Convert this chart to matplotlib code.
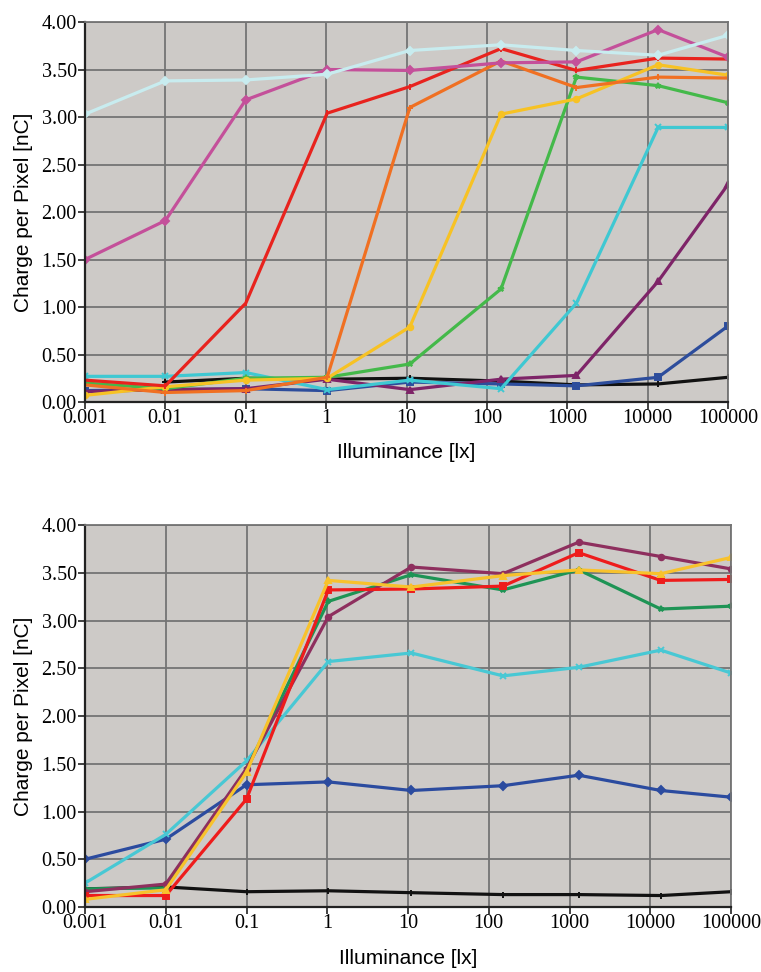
import numpy as np
import matplotlib
matplotlib.use("Agg")
from matplotlib import pyplot as plt

# illuminance steps (lx) and tick labels
lux = [0.001, 0.01, 0.1, 1.03, 11, 150, 1300, 13500, 100000]
tick_lux = [0.001, 0.01, 0.1, 1, 10, 100, 1000, 10000, 100000]
tick_text = ["0.001", "0.01", "0.1", "1", "10", "100", "1000", "10000", "100000"]

# upper panel: charge per pixel [nC]
top_lightcyan = [3.03, 3.38, 3.39, 3.45, 3.70, 3.76, 3.70, 3.65, 3.86]
top_magenta = [1.50, 1.91, 3.18, 3.50, 3.49, 3.57, 3.58, 3.92, 3.63]
top_red = [0.23, 0.17, 1.04, 3.04, 3.32, 3.72, 3.49, 3.62, 3.61]
top_orange = [0.18, 0.10, 0.12, 0.26, 3.10, 3.59, 3.31, 3.42, 3.41]
top_yellow = [0.07, 0.16, 0.23, 0.25, 0.79, 3.03, 3.19, 3.55, 3.44]
top_green = [0.20, 0.14, 0.25, 0.26, 0.40, 1.19, 3.42, 3.33, 3.15]
top_cyan = [0.27, 0.27, 0.31, 0.13, 0.23, 0.14, 1.04, 2.89, 2.89]
top_purple = [0.11, 0.13, 0.14, 0.24, 0.13, 0.24, 0.28, 1.27, 2.29]
top_blue = [0.12, 0.13, 0.14, 0.12, 0.21, 0.19, 0.17, 0.26, 0.80]
top_black = [np.nan, 0.21, 0.25, 0.24, 0.25, 0.22, 0.18, 0.19, 0.26]

# lower panel
bot_maroon = [0.16, 0.24, 1.45, 3.04, 3.56, 3.49, 3.82, 3.67, 3.54]
bot_red = [0.12, 0.12, 1.13, 3.32, 3.33, 3.36, 3.71, 3.42, 3.43]
bot_yellow = [0.08, 0.18, 1.41, 3.42, 3.35, 3.47, 3.53, 3.49, 3.66]
bot_green = [0.19, 0.20, 1.44, 3.20, 3.48, 3.32, 3.53, 3.12, 3.15]
bot_cyan = [0.25, 0.76, 1.53, 2.57, 2.66, 2.42, 2.51, 2.69, 2.45]
bot_blue = [0.50, 0.71, 1.28, 1.31, 1.22, 1.27, 1.38, 1.22, 1.15]
bot_black = [0.19, 0.21, 0.16, 0.17, 0.15, 0.13, 0.13, 0.12, 0.16]

top_series = [
    (top_black, "#111111", "+"),
    (top_blue, "#2d4d9c", "s"),
    (top_purple, "#7e2468", "^"),
    (top_cyan, "#3fc8d2", "x"),
    (top_green, "#44b94a", "*"),
    (top_yellow, "#f7c224", "o"),
    (top_orange, "#f07022", "+"),
    (top_red, "#e8231e", "|"),
    (top_magenta, "#c4509a", "D"),
    (top_lightcyan, "#c8ecef", "D"),
]
bot_series = [
    (bot_black, "#111111", "+"),
    (bot_blue, "#2b4b9f", "D"),
    (bot_cyan, "#48c8d4", "x"),
    (bot_green, "#1e9455", "*"),
    (bot_maroon, "#8e2f5e", "o"),
    (bot_red, "#ee1c1c", "s"),
    (bot_yellow, "#f8c22c", "^"),
]

serif = "Liberation Serif"
sans = "Liberation Sans"

fig = plt.figure(figsize=(7.61, 9.72), dpi=100)
ax_top = fig.add_axes([85 / 761, 1 - 402 / 972, 643 / 761, 380 / 972])
ax_bot = fig.add_axes([85 / 761, 1 - 907 / 972, 646 / 761, 382 / 972])

panels = [(ax_top, top_series, 402, 380, 452), (ax_bot, bot_series, 907, 382, 958)]
for ax, series, bottom_px, height_px, label_y in panels:
    ax.set_facecolor("#cdcac7")
    for vals, col, mk in series:
        ax.plot(lux, vals, color=col, lw=2.3, marker=mk, ms=4, mew=1.4,
                solid_joinstyle="round")
    ax.set_xscale("log")
    ax.set_xlim(0.001, 100000)
    ax.set_ylim(0, 4)
    ax.xaxis.set_minor_locator(matplotlib.ticker.NullLocator())
    ax.set_xticks(tick_lux)
    ax.set_xticklabels(tick_text, fontfamily=serif, fontsize=14.5)
    yt = np.arange(0, 4.01, 0.5)
    ax.set_yticks(yt)
    ax.set_yticklabels(["%.2f" % v for v in yt], fontfamily=serif, fontsize=14.5)
    ax.grid(True, color="#747474", lw=1.3)
    ax.set_axisbelow(True)
    ax.tick_params(axis="both", direction="out", length=5, width=1.2,
                   color="#222222")
    ax.tick_params(axis="x", pad=0)
    ax.tick_params(axis="y", pad=1)
    for side in ["top", "right"]:
        ax.spines[side].set_color("#747474")
        ax.spines[side].set_linewidth(1.3)
    for side in ["left", "bottom"]:
        ax.spines[side].set_color("#222222")
        ax.spines[side].set_linewidth(1.6)
    ax.set_ylabel("Charge per Pixel [nC]", fontfamily=sans, fontsize=15)
    ax.yaxis.set_label_coords(-52 / 643, 0.5)
    ax.set_xlabel("Illuminance [lx]", fontfamily=sans, fontsize=15)
    ax.xaxis.set_label_coords(0.5, -(label_y - bottom_px) / height_px)
    ax.xaxis.label.set_verticalalignment("center")

fig.savefig("out.png", dpi=100, facecolor="white")
